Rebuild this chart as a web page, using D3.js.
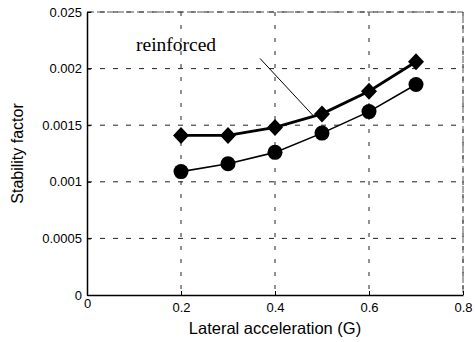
<!DOCTYPE html>
<html>
<head>
<meta charset="utf-8">
<script src="https://cdn.jsdelivr.net/npm/d3@7"></script>
<style>
  body { margin: 0; background: #fff; }
  svg { display: block; }
</style>
</head>
<body>
<div id="chart"></div>
<script>
// data
var accel = [0.2, 0.3, 0.4, 0.5, 0.6, 0.7];
var reinforced = [0.00141, 0.00141, 0.00148, 0.00160, 0.00180, 0.00206];
var plain = [0.00109, 0.00116, 0.00126, 0.00143, 0.00162, 0.00186];
var xTicks = [0, 0.2, 0.4, 0.6, 0.8];
var xTickLabels = ["0", "0.2", "0.4", "0.6", "0.8"];
var yTicks = [0, 0.0005, 0.001, 0.0015, 0.002, 0.0025];
var yTickLabels = ["0", "0.0005", "0.001", "0.0015", "0.002", "0.025"];

var W = 475, H = 342;
var margin = {top: 12, right: 12, bottom: 47, left: 87},
    width = W - margin.left - margin.right,
    height = H - margin.top - margin.bottom;

var font = "Liberation Sans, Arial, sans-serif";

var svg = d3.select("#chart").append("svg")
    .attr("width", W)
    .attr("height", H)
  .append("g")
    .attr("transform", "translate(" + margin.left + "," + margin.top + ")");

var x = d3.scaleLinear().domain([0, 0.8]).range([0, width]);
var y = d3.scaleLinear().domain([0, 0.0025]).range([height, 0]);

// grid
svg.append("g").selectAll("line.gx")
  .data(xTicks.slice(1))
  .enter().append("line")
    .attr("x1", function(d) { return x(d); })
    .attr("x2", function(d) { return x(d); })
    .attr("y1", 0).attr("y2", height)
    .attr("stroke", "#222").attr("stroke-width", 1)
    .attr("stroke-dasharray", "4,9");

svg.append("g").selectAll("line.gy")
  .data(yTicks.slice(1))
  .enter().append("line")
    .attr("x1", 0).attr("x2", width)
    .attr("y1", function(d) { return y(d); })
    .attr("y2", function(d) { return y(d); })
    .attr("stroke", "#222").attr("stroke-width", 1)
    .attr("stroke-dasharray", "5,8");

// top + right frame, faint
svg.append("path")
  .attr("d", "M0,0H" + width + "V" + height)
  .attr("fill", "none").attr("stroke", "#555").attr("stroke-width", 1)
  .attr("stroke-dasharray", "7,3");

// axes
var xAxis = svg.append("g")
  .attr("transform", "translate(0," + height + ")")
  .call(d3.axisBottom(x).tickValues(xTicks).tickSizeInner(-4).tickSizeOuter(0)
    .tickPadding(8).tickFormat(function(d, i) { return xTickLabels[i]; }));
xAxis.select(".domain").attr("stroke", "#000").attr("stroke-width", 1.5);
xAxis.selectAll("text").attr("font-family", font)
  .attr("font-size", 13).attr("fill", "#000");
xAxis.selectAll("text").filter(function(d) { return d === 0; }).attr("dy", "0.4em");

var yAxis = svg.append("g")
  .call(d3.axisLeft(y).tickValues(yTicks).tickSizeInner(-4).tickSizeOuter(0)
    .tickPadding(5).tickFormat(function(d, i) { return yTickLabels[i]; }));
yAxis.select(".domain").attr("stroke", "#000").attr("stroke-width", 1.5);
yAxis.selectAll("text").attr("font-family", font)
  .attr("font-size", 13).attr("fill", "#000");

// axis titles
svg.append("text")
  .attr("x", x(0.4)).attr("y", height + 39)
  .attr("text-anchor", "middle")
  .attr("font-family", font).attr("font-size", 16.5)
  .text("Lateral acceleration (G)");

svg.append("text")
  .attr("transform", "translate(" + (-64) + "," + y(0.00125) + ") rotate(-90)")
  .attr("text-anchor", "middle")
  .attr("font-family", font).attr("font-size", 16)
  .text("Stability factor");

var line = d3.line()
  .x(function(d, i) { return x(accel[i]); })
  .y(function(d) { return y(d); });

// plain series (circles)
svg.append("path").datum(plain)
  .attr("fill", "none").attr("stroke", "#000").attr("stroke-width", 1.6)
  .attr("d", line);
svg.append("g").selectAll("circle")
  .data(plain).enter().append("circle")
    .attr("cx", function(d, i) { return x(accel[i]); })
    .attr("cy", function(d) { return y(d); })
    .attr("r", 7.5).attr("fill", "#000");

// reinforced series (diamonds)
svg.append("path").datum(reinforced)
  .attr("fill", "none").attr("stroke", "#000").attr("stroke-width", 2.8)
  .attr("d", line);
svg.append("g").selectAll("path.dm")
  .data(reinforced).enter().append("path")
    .attr("transform", function(d, i) { return "translate(" + x(accel[i]) + "," + y(d) + ")"; })
    .attr("d", "M0,-8.5L8,0L0,8.5L-8,0Z")
    .attr("fill", "#000");

// annotation
svg.append("text")
  .attr("x", 136 - margin.left).attr("y", 51 - margin.top)
  .attr("font-family", "Liberation Serif, Times New Roman, serif").attr("font-size", 19.5)
  .text("reinforced");
svg.append("line")
  .attr("x1", x(0.368)).attr("y1", y(0.00209))
  .attr("x2", x(0.48)).attr("y2", y(0.00159))
  .attr("stroke", "#000").attr("stroke-width", 1);
</script>
</body>
</html>
